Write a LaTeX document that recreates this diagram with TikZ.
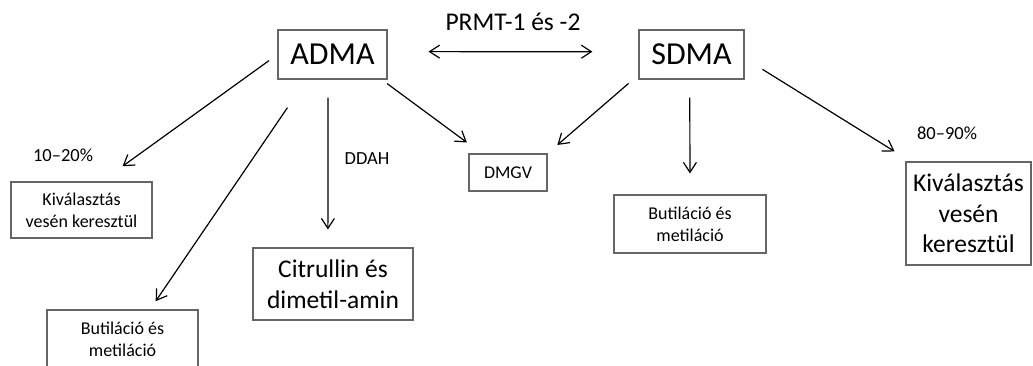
\documentclass[tikz,border=0pt]{standalone}
\usepackage{fontspec}
\setmainfont{Carlito}
\usetikzlibrary{arrows.meta}

\begin{document}
\begin{tikzpicture}[
  x=1pt,y=-1pt,
  >={Straight Barb[length=10pt,width=13pt]},
  bigbox/.style={rectangle,draw=black!60,line width=1.1pt,inner sep=0pt,align=center,font=\fontsize{32}{38}\selectfont},
  midbox/.style={rectangle,draw=black!60,line width=1.1pt,inner sep=0pt,align=center,font=\fontsize{25.5}{30.5}\selectfont},
  smallbox/.style={rectangle,draw=black!60,line width=1.1pt,inner sep=0pt,align=center,font=\fontsize{18}{22}\selectfont},
  note/.style={inner sep=0pt,font=\fontsize{18.5}{22}\selectfont},
  line/.style={->,line width=1.2pt},
  twoway/.style={<->,line width=1.2pt}
]
  \useasboundingbox (0,0) rectangle (1033,365);

  \node[bigbox,minimum width=109pt,minimum height=49pt] (adma) at (332.5,54.5) {ADMA};
  \node[bigbox,minimum width=105pt,minimum height=49pt] (sdma) at (691.5,54.5) {SDMA};

  \node[smallbox,minimum width=141pt,minimum height=56pt] (renal) at (81.5,210) {Kiválasztás\\vesén keresztül};
  \node[smallbox,minimum width=151pt,minimum height=58pt] (butyl) at (122.5,339) {Butiláció és\\metiláció};
  \node[midbox,minimum width=160pt,minimum height=72pt] (citr) at (333,284) {Citrullin és\\dimetil-amin};
  \node[smallbox,minimum width=78pt,minimum height=37pt] (dmgv) at (508,172.5) {DMGV};
  \node[smallbox,minimum width=152pt,minimum height=58pt] (butylr) at (690,224) {Butiláció és\\metiláció};
  \node[midbox,minimum width=125pt,minimum height=103pt] (renalr) at (968.5,213.5) {Kiválasztás\\vesén\\keresztül};

  \node[note] (pctl) at (63,155) {10–20\%};
  \node[note] (pctr) at (947,133) {80–90\%};
  \node[note] (ddah) at (367,158.5) {DDAH};

  \draw[twoway,shorten <=41pt,shorten >=46pt] (adma.3) -- node[above=20pt,inner sep=0pt,font=\fontsize{25.5}{30}\selectfont] {PRMT-1 és -2} (sdma.177);

  \draw[line,shorten <=10.5pt,shorten >=26pt] (adma.west) -- (renal.55);
  \draw[line,shorten <=34pt,shorten >=10pt] (adma.224) -- (butyl.47);
  \draw[line,shorten <=18pt,shorten >=18pt] (adma.260) -- (citr.98);
  \draw[line,shorten <=6.7pt,shorten >=18.5pt] (adma.333) -- (dmgv.144);

  \draw[line,shorten <=13pt,shorten >=13pt] (sdma.201) -- (dmgv.north east);
  \draw[line,shorten <=18pt,shorten >=21pt] (sdma.266) -- (butylr.north);
  \draw[line,shorten <=21pt,shorten >=19pt] (sdma.356) -- (renalr.138);
\end{tikzpicture}
\end{document}
